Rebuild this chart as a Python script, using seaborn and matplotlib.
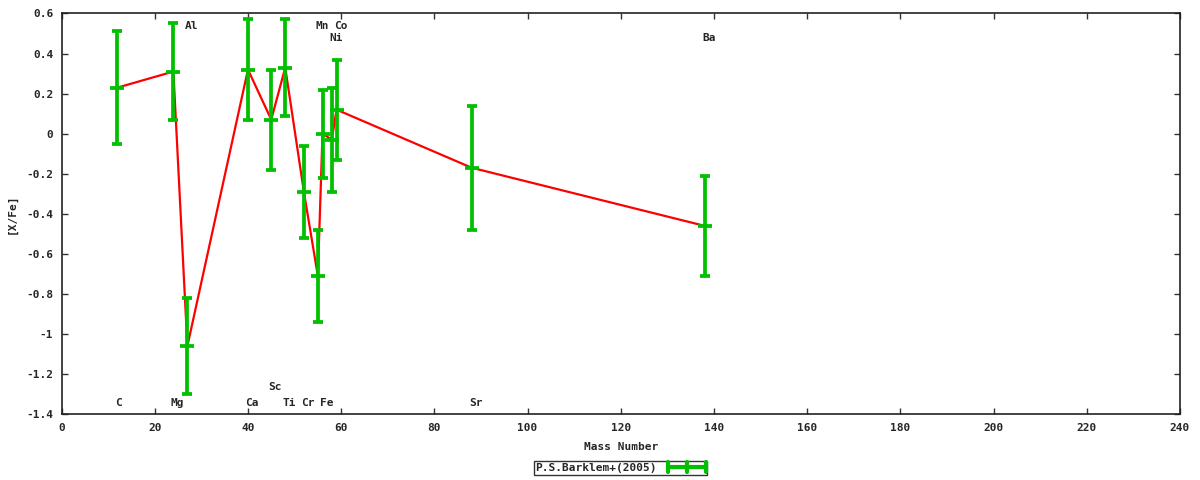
import numpy as np
import pandas as pd
import seaborn as sns
import matplotlib
matplotlib.use("Agg")
import matplotlib.pyplot as plt
from matplotlib.legend_handler import HandlerBase
from matplotlib.lines import Line2D
from matplotlib.ticker import FuncFormatter, MultipleLocator

# abundances
elements = ["C", "Mg", "Al", "Ca", "Sc", "Ti", "Cr", "Mn", "Fe", "Ni", "Co", "Sr", "Ba"]
mass = [12, 24, 27, 40, 45, 48, 52, 55, 56, 58, 59, 88, 138]
xfe = [0.23, 0.31, -1.06, 0.32, 0.07, 0.33, -0.29, -0.71, 0.00, -0.03, 0.12, -0.17, -0.46]
err = [0.28, 0.24, 0.24, 0.25, 0.25, 0.24, 0.23, 0.23, 0.22, 0.26, 0.25, 0.31, 0.25]
# where gnuplot put the element names
label_y = [-1.345, -1.345, 0.537, -1.345, -1.265, -1.345, -1.345, 0.537, -1.345, 0.478, 0.537, -1.345, 0.478]
source = "P.S.Barklem+(2005)"

GREEN = "#00c000"
RED = "#ff0000"

df = pd.DataFrame({"element": elements, "mass": mass, "xfe": xfe, "err": err})

sns.set_style("ticks")
plt.rcParams["font.family"] = ["DejaVu Sans Mono"]
plt.rcParams["font.weight"] = "bold"
plt.rcParams["axes.unicode_minus"] = False

fig = plt.figure(figsize=(12, 4.8), dpi=100)
ax = fig.add_axes([0.0513, 0.137, 0.932, 0.835])

sns.lineplot(data=df, x="mass", y="xfe", color=RED, lw=1.6, ax=ax, sort=True, zorder=2)
ax.errorbar(df["mass"], df["xfe"], yerr=df["err"], fmt="none", ecolor=GREEN,
            elinewidth=2.7, capsize=3.5, capthick=2.7, zorder=3)
sns.scatterplot(data=df, x="mass", y="xfe", marker="_", s=90, linewidth=2.7,
                color=GREEN, ax=ax, zorder=4, legend=False)

for el, m, ly in zip(elements, mass, label_y):
    off = 0.2 if len(el) == 1 else 0.9
    ax.text(m + off, ly, el, ha="center", va="center", fontsize=8, fontweight="bold")

ax.set_xlim(0, 240)
ax.set_ylim(-1.4, 0.6)
ax.xaxis.set_major_locator(MultipleLocator(20))
ax.yaxis.set_major_locator(MultipleLocator(0.2))
fmt = FuncFormatter(lambda v, p: "%g" % round(v, 6))
ax.xaxis.set_major_formatter(fmt)
ax.yaxis.set_major_formatter(fmt)
ax.tick_params(direction="in", length=4, width=1, top=True, right=True,
               labelsize=8, pad=6, color="#333333")
for lab in ax.get_xticklabels() + ax.get_yticklabels():
    lab.set_fontweight("bold")
for sp in ax.spines.values():
    sp.set_visible(True)
    sp.set_linewidth(1.2)
    sp.set_color("#222222")

ax.set_xlabel("Mass Number", fontsize=8, fontweight="bold", va="center")
ax.set_ylabel("[X/Fe]", fontsize=8, fontweight="bold", va="center")
ax.xaxis.set_label_coords(0.5, -0.0816)
ax.yaxis.set_label_coords(-0.0443, 0.5)


class ErrHandler(HandlerBase):
    def create_artists(self, legend, orig, xd, yd, w, h, fs, trans):
        yc = yd + h / 2
        arts = [Line2D([xd, xd + w], [yc, yc], color=GREEN, lw=3)]
        for xx in (xd, xd + w / 2, xd + w):
            arts.append(Line2D([xx, xx], [yc - 3.5, yc + 3.5], color=GREEN, lw=3))
        for a in arts:
            a.set_transform(trans)
        return arts


handle = Line2D([], [], color=GREEN)
leg = fig.legend([handle], [source], handler_map={Line2D: ErrHandler()},
                 loc="center", bbox_to_anchor=(0.517, 0.025), frameon=True,
                 fancybox=False, fontsize=8, handlelength=3.4, handletextpad=1.0,
                 borderpad=0.15, borderaxespad=0, markerfirst=False)
leg.get_frame().set_edgecolor("black")
leg.get_frame().set_linewidth(1)
for t in leg.get_texts():
    t.set_fontweight("bold")

fig.savefig("out.png", dpi=100)
